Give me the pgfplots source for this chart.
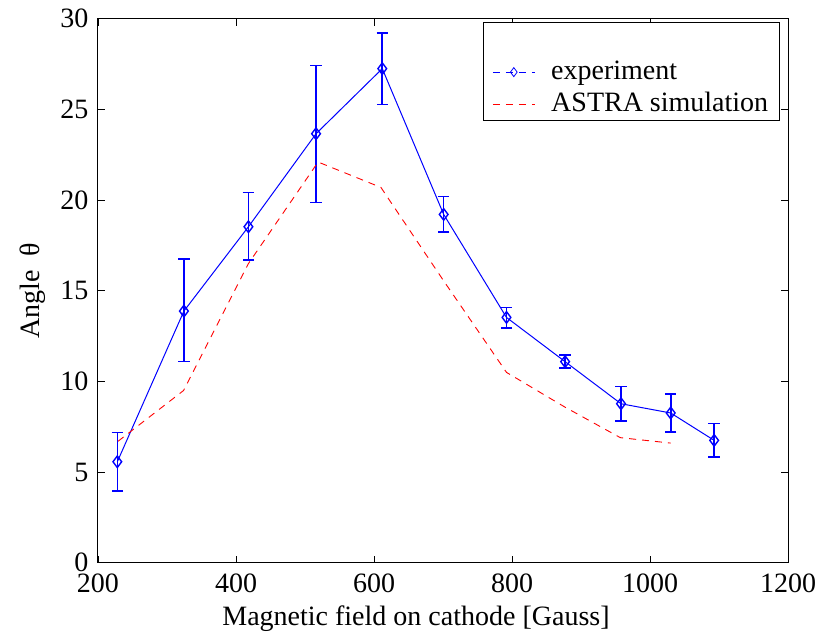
\documentclass[border=0pt]{standalone}
\usepackage{pgfplots}
\pgfplotsset{compat=1.18}
\usepackage{pgfplotstable}
\usepackage{fontspec}
\setmainfont{Liberation Serif}
\pgfplotstableread{
x y ep em
228 5.57 1.62 1.60
324.5 13.88 2.87 2.79
418 18.53 1.88 1.82
516 23.66 3.77 3.80
612 27.25 1.95 1.97
701 19.21 0.98 0.97
792 13.53 0.55 0.57
877 11.09 0.36 0.34
958 8.77 0.94 0.96
1030 8.26 1.06 1.05
1093 6.75 0.93 0.92
}\exper
\pgfplotstableread{
x y
229 6.7
324 9.5
418 16.5
519 22.1
610 20.7
700 15.6
792 10.5
876 8.6
957 6.9
1030 6.6
}\astra
\begin{document}
\fontsize{28}{32}\selectfont
\begin{tikzpicture}
\begin{axis}[
  scale only axis, width=690pt, height=544pt,
  xmin=200, xmax=1200, ymin=0, ymax=30,
  xtick={200,400,...,1200}, ytick={0,5,...,30},
  tick align=inside, major tick length=7pt,
  xtick pos=both, ytick pos=both,
  xticklabel pos=lower, yticklabel pos=left,
  /pgf/number format/assume math mode=true,
  scaled ticks=false,
  xticklabel style={/pgf/number format/1000 sep={}, yshift=-2pt},
  tick label style={font=\fontsize{28}{32}\selectfont},
  label style={font=\fontsize{28}{32}\selectfont},
  xlabel={Magnetic field on cathode [Gauss]},
  ylabel={Angle\ \ θ},
  xlabel style={yshift=6pt, xshift=-27pt},
  ylabel style={yshift=-4pt},
  axis line style={line width=1pt},
  every tick/.style={black, line width=0.8pt},
  legend cell align=left,
  legend style={at={(rel axis cs:0.988,0.994)}, anchor=north east, draw=black, line width=1pt,
    font=\fontsize{28}{30}\selectfont, row sep=5pt, column sep=14pt, inner xsep=9pt, inner ysep=2pt},
  legend image code/.code={\draw[mark repeat=2,mark phase=2,#1] plot coordinates {(0pt,0pt) (21pt,0pt) (42pt,0pt)};},
]
\addlegendimage{empty legend}
\addlegendentry{\strut}
\addlegendimage{blue, line width=0.8pt, dash pattern=on 7pt off 6pt, mark=diamond, mark size=4.5pt, mark options={solid, line width=0.8pt}}
\addlegendentry{experiment}
\addlegendimage{red, line width=0.8pt, dash pattern=on 7pt off 6pt}
\addlegendentry{ASTRA simulation}
\addplot[blue, line width=1pt, mark=diamond, mark size=5.8pt, mark options={solid, line width=1.4pt},
  error bars/.cd, y dir=both, y explicit,
  error bar style={line width=1.6pt},
  error mark options={rotate=90, mark size=5.7pt, line width=1.6pt}]
  table[x=x, y=y, y error plus=ep, y error minus=em] {\exper};
\addplot[red, line width=0.9pt, dash pattern=on 7pt off 6pt] table[x=x, y=y] {\astra};
\coordinate (bl) at (rel axis cs:0,0);
\coordinate (tr) at (rel axis cs:1,1);
\end{axis}
\path ([xshift=-98pt,yshift=-73pt]bl) rectangle ([xshift=44pt,yshift=16pt]tr);
\end{tikzpicture}
\end{document}
